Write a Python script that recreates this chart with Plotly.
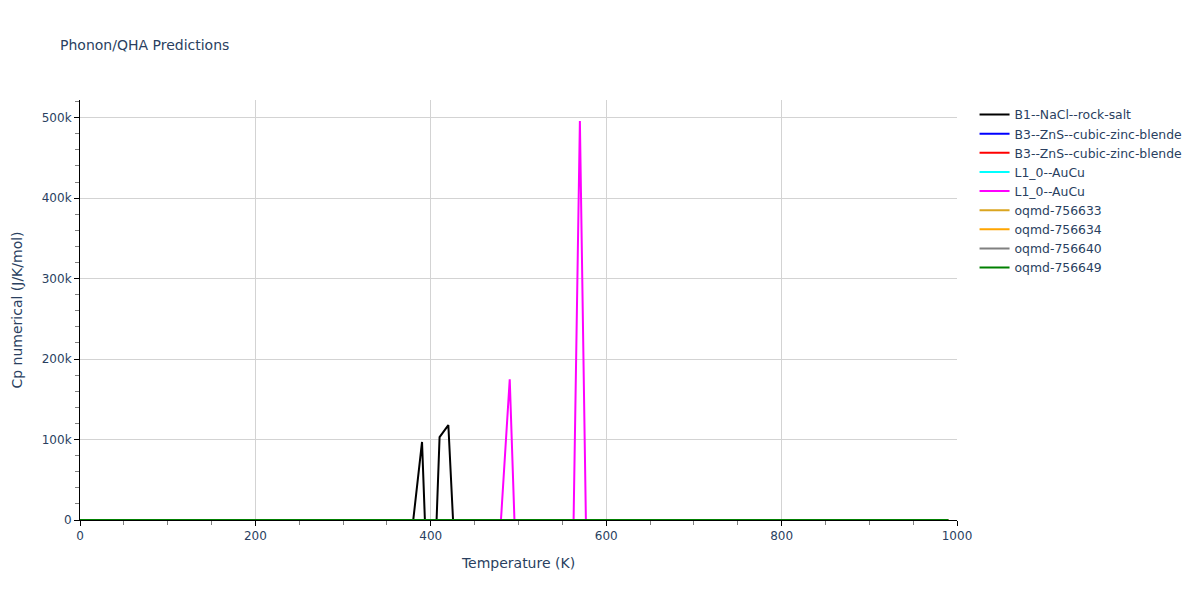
import plotly.graph_objects as go

# Temperature grids (K) and Cp numerical (J/K/mol) per series
names = ["B1--NaCl--rock-salt", "B3--ZnS--cubic-zinc-blende", "B3--ZnS--cubic-zinc-blende",
         "L1_0--AuCu", "L1_0--AuCu", "oqmd-756633", "oqmd-756634", "oqmd-756640", "oqmd-756649"]
colors = ["black", "blue", "red", "cyan", "magenta", "goldenrod", "orange", "gray", "green"]

T_b1 = [0, 50, 100, 200, 300, 370, 380, 390, 400, 410, 420, 430, 440, 500, 600, 700, 800, 900, 990]
cp_b1 = [0, 20, 38, 46, 48, 49, 40, 97000, -200000, 103000, 118000, -102000, 49, 49, 50, 50, 50, 50, 50]

T_zns1 = [0, 50, 100, 200, 300, 400, 500, 600, 700, 800, 900, 990]
cp_zns1 = [0, 22, 40, 47, 49, 49, 50, 50, 50, 50, 50, 50]

T_zns2 = [0, 20, 30, 40, 50, 60, 70, 80, 90, 100, 110, 120, 130, 140, 150, 200, 300, 400, 500, 600, 700, 800, 900, 990]
cp_zns2 = [0, 15, 700, 750, 750, 700, 30, 700, 750, 750, 750, 750, 750, 700, 45, 47, 49, 49, 50, 50, 50, 50, 50, 50]

T_auc1 = [0, 50, 100, 200, 300, 400, 500, 600, 700, 800, 900, 990]
cp_auc1 = [0, 25, 42, 48, 49, 50, 50, 50, 50, 50, 50, 50]

T_auc2 = [0, 50, 100, 200, 300, 400, 470, 480, 490, 500, 510, 550, 560, 570, 580, 590, 600, 700, 800, 900, 990]
cp_auc2 = [0, 25, 42, 48, 49, 50, 50, 50, 175000, -151000, 50, 50, -195000, 496000, -229000, 50, 50, 50, 50, 50, 50]

T_q633 = [0, 50, 100, 200, 300, 400, 500, 600, 700, 800, 900, 990]
cp_q633 = [0, 21, 39, 46, 48, 49, 49, 50, 50, 50, 50, 50]

T_q634 = [0, 50, 100, 200, 300, 400, 500, 600, 700, 800, 900, 990]
cp_q634 = [0, 21, 39, 46, 48, 49, 49, 50, 50, 50, 50, 50]

T_q640 = [0, 50, 100, 200, 300, 400, 500, 600, 700, 800, 900, 990]
cp_q640 = [0, 23, 40, 47, 48, 49, 49, 50, 50, 50, 50, 50]

T_q649 = [0, 50, 100, 200, 300, 400, 500, 600, 700, 800, 900, 990]
cp_q649 = [0, 22, 40, 47, 49, 49, 50, 50, 50, 50, 50, 50]

xs = [T_b1, T_zns1, T_zns2, T_auc1, T_auc2, T_q633, T_q634, T_q640, T_q649]
ys = [cp_b1, cp_zns1, cp_zns2, cp_auc1, cp_auc2, cp_q633, cp_q634, cp_q640, cp_q649]

fig = go.Figure()
for n, c, x, y in zip(names, colors, xs, ys):
    fig.add_trace(go.Scatter(x=x, y=y, mode="lines", name=n, line=dict(color=c, width=2)))

axis_common = dict(showline=True, linecolor="black", linewidth=1, ticks="outside", tickcolor="black",
                   ticklen=5, showgrid=True, gridcolor="lightgray", zeroline=False)
fig.update_layout(
    template="plotly_white",
    font=dict(family="DejaVu Sans"),
    width=1200, height=600,
    margin=dict(l=80, t=100, r=80, b=80),
    title=dict(text="Phonon/QHA Predictions", x=0.05, font=dict(size=14)),
    legend=dict(font=dict(size=12.4)),
    xaxis=dict(title="Temperature (K)", range=[0, 1000], dtick=200,
               minor=dict(ticks="outside", dtick=50, ticklen=4, tickcolor="gray"), **axis_common),
    yaxis=dict(title="Cp numerical (J/K/mol)", range=[0, 522000], dtick=100000,
               minor=dict(ticks="outside", dtick=20000, ticklen=4, tickcolor="gray"), **axis_common),
)
fig.write_html("out.html", config={"displayModeBar": False},
               post_script="document.body.style.margin='0px';")
